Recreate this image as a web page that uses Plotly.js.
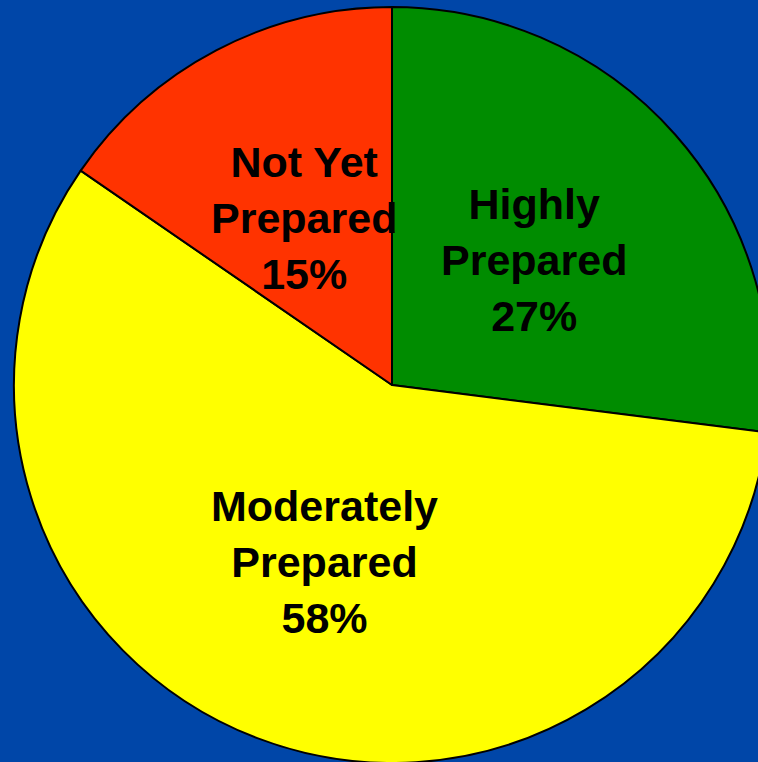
<!DOCTYPE html>
<html>
<head>
<meta charset="utf-8">
<script src="https://cdn.plot.ly/plotly-3.0.1.min.js"></script>
<style>
html,body{margin:0;padding:0;background:#0046A8;overflow:hidden;}
#wrap{width:758px;height:762px;overflow:hidden;position:relative;}
#chart{position:absolute;left:0;top:0;}
</style>
</head>
<body>
<div id="wrap"><div id="chart"></div></div>
<script>
const labels = ["Highly<br>Prepared", "Moderately<br>Prepared", "Not Yet<br>Prepared"];
const values = [27, 57.6, 15.4];
const colors = ["#008C00", "#FFFF00", "#FF3300"];

const W = 800, H = 770;
const cx = 392, cy = 385, r = 378;

// label positions derived from the slice values (mid-angle, half radius)
const total = values.reduce((a, b) => a + b, 0);
let cum = 0;
const annotations = values.map((v, i) => {
  const mid = (cum + v / 2) / total * 2 * Math.PI;
  cum += v;
  const px = cx + 0.5 * r * Math.sin(mid);
  const py = cy - 0.5 * r * Math.cos(mid);
  return {
    x: px / W, y: 1 - py / H, xref: "paper", yref: "paper",
    xanchor: "center", yanchor: "middle", showarrow: false,
    text: labels[i] + "<br>" + Math.round(v / total * 100) + "%",
    font: {family: "Liberation Sans, Arial, sans-serif", size: 43, color: "#000000", weight: "bold"}
  };
});

Plotly.newPlot("chart", [{
  type: "pie",
  labels: labels,
  values: values,
  sort: false,
  direction: "clockwise",
  rotation: 0,
  marker: {colors: colors, line: {color: "#000000", width: 2}},
  textinfo: "none",
  hoverinfo: "none",
  showlegend: false,
  domain: {x: [(cx - r) / W, (cx + r) / W], y: [1 - (cy + r) / H, 1 - (cy - r) / H]}
}], {
  width: W, height: H,
  margin: {l: 0, r: 0, t: 0, b: 0},
  paper_bgcolor: "#0046A8",
  plot_bgcolor: "#0046A8",
  showlegend: false,
  annotations: annotations
}, {staticPlot: true, displayModeBar: false});
</script>
</body>
</html>
